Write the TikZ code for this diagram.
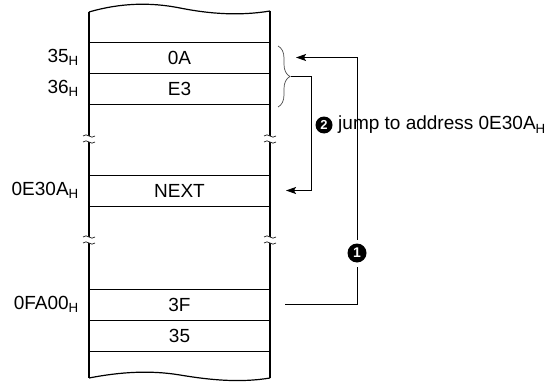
\documentclass[tikz,border=0pt]{standalone}
\usepackage{fontspec}
\setmainfont{Liberation Sans}
\usetikzlibrary{arrows.meta, positioning, decorations.pathreplacing}
\begin{document}
\begin{tikzpicture}[
	  x=1pt, y=-1pt,
	  every node/.style={font=\fontsize{19}{23}\selectfont},
	  cell/.style={rectangle, minimum width=181pt, minimum height=31pt, outer sep=0pt, text centered, draw=black, line width=0.8pt},
	  addr/.style={inner sep=0pt},
	  badge/.style={circle, fill=black, text=white, inner sep=0pt, minimum size=19pt, font=\fontsize{14}{14}\selectfont\bfseries},
	  wall/.style={line width=1.6pt},
	  wave/.style={line width=1.2pt},
	  brk/.style={line width=0.8pt, black!80},
	  bracket/.style={decorate, decoration={brace, amplitude=12pt}, line width=0.7pt, black!70},
	  line/.style={line width=0.8pt},
	  arrow/.style={line width=0.8pt, -{Stealth[length=10pt, width=7pt, inset=2pt]}}
	]

	\useasboundingbox (0,0) rectangle (556,385);

	\node (c35) [cell] at (179.5,57.5) {0A};
	\node (c36) [cell, below=0pt of c35] {E3};
	\node (next) [cell] at (179.5,190.5) {NEXT};
	\node (cfa00) [cell] at (179.5,304.5) {3F};
	\node (cfa01) [cell, below=0pt of cfa00] {35};

	\node (a35) [addr, left=10pt of c35] {35\textsubscript{H}};
	\node (a36) [addr, left=10pt of c36] {36\textsubscript{H}};
	\node (anext) [addr, left=10pt of next] {0E30A\textsubscript{H}};
	\node (afa00) [addr, left=10pt of cfa00] {0FA00\textsubscript{H}};

	\draw [wall] (89,12) -- (89,378);
	\draw [wall] (270,11) -- (270,378);
	\draw [wave] (89,12) .. controls (120,3) and (150,2) .. (180,8) .. controls (210,14) and (240,16) .. (270,11);
	\draw [wave] (89,378) .. controls (120,372) and (150,370) .. (180,375) .. controls (210,380) and (240,383) .. (270,378);

	\foreach \x in {89,270}
	  \foreach \y in {139,240} {
	    \fill [white] ({\x-3},{\y-3}) rectangle ({\x+3},{\y+3});
	    \draw [brk] ({\x-6},{\y-3}) .. controls ({\x-2},{\y-7}) and ({\x+2},{\y+1}) .. ({\x+6},{\y-3});
	    \draw [brk] ({\x-6},{\y+3}) .. controls ({\x-2},{\y-1}) and ({\x+2},{\y+7}) .. ({\x+6},{\y+3});
	  }

	\draw [bracket] (278,46) -- (278,107);
	\coordinate (tip) at (291,76.5);

	\node (one) [badge, outer sep=4pt] at (357,253) {1};
	\node (two) [badge, minimum size=17pt, font=\fontsize{13}{13}\selectfont\bfseries] at (324,125) {2};
	\node (jump) [right=2pt of two] {jump to address 0E30A\textsubscript{H}};

	\draw [line] ([xshift=15pt]cfa00.east) -| (one);
	\draw [arrow] (one) |- ([xshift=26pt]c35.east);
	\draw [arrow] (tip) -- ++(20,0) |- ([xshift=16pt]next.east);

\end{tikzpicture}
\end{document}
